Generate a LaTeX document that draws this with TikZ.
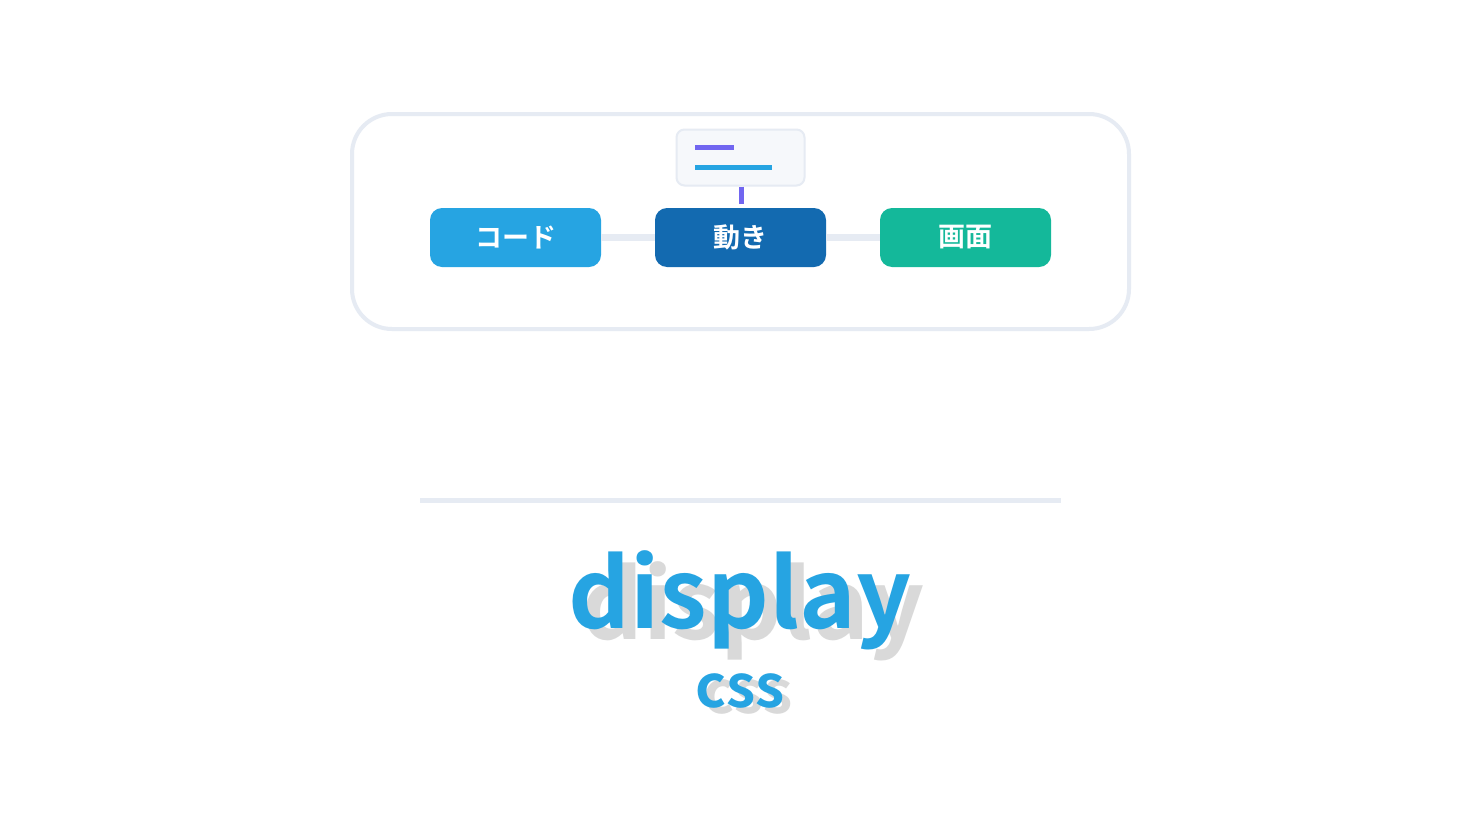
\documentclass[tikz,border=0pt]{standalone}
\usepackage{fontspec}
\newfontfamily\cjk{Noto Sans CJK JP}[BoldFont={Noto Sans CJK JP Bold}]
\definecolor{frame}{HTML}{E6EBF3}
\definecolor{codeblue}{HTML}{26A4E2}
\definecolor{movblue}{HTML}{136AB0}
\definecolor{scrgreen}{HTML}{14B89A}
\definecolor{purp}{HTML}{7166F0}
\definecolor{boxfill}{HTML}{F6F8FB}
\definecolor{shadowgray}{HTML}{D9D9D9}
\tikzset{
  pill/.style={rectangle, rounded corners=12pt, minimum width=171pt, minimum height=59pt, inner sep=0pt, text=white, font=\cjk\bfseries\fontsize{27}{30}\selectfont},
  link/.style={draw=frame, line width=7pt},
  bigtitle/.style={font=\cjk\bfseries\fontsize{96}{104}\selectfont, anchor=base},
  subtitle/.style={font=\cjk\bfseries\fontsize{59}{64}\selectfont, anchor=base},
}
\begin{document}
\begin{tikzpicture}[x=1pt,y=-1pt]
\useasboundingbox[fill=white] (0,0) rectangle (1480,835);
% container
\draw[frame, line width=4pt, rounded corners=40pt] (352,114) rectangle (1129,329);
% nodes
\node[pill, fill=codeblue] (code) at (515.5,237.5) {コード};
\node[pill, fill=movblue] (mov) at (740.5,237.5) {動き};
\node[pill, fill=scrgreen] (scr) at (965.5,237.5) {画面};
\draw[link] (code.east) -- (mov.west);
\draw[link] (mov.east) -- (scr.west);
% tooltip box
\node[draw=frame, line width=2pt, fill=boxfill, rounded corners=8pt, minimum width=128pt, minimum height=56pt, inner sep=0pt] (tip) at (740.5,157.5) {};
\draw[purp, line width=5pt] (695,147) -- (734,147);
\draw[codeblue, line width=5pt] (695,167) -- (772,167);
\coordinate (tipend) at (741,204);
\draw[purp, line width=5pt] (tip.south -| tipend) -- (tipend);
% separator
\coordinate (sepL) at (420,500.5);
\coordinate (sepR) at (1061,500.5);
\draw[frame, line width=5pt] (sepL) -- (sepR);
% title
\node[bigtitle, text=shadowgray] (dispshadow) at (753,639) {display};
\node[bigtitle, text=codeblue] (disp) at (740,628) {display};
\node[subtitle, text=shadowgray] (cssshadow) at (748,713) {css};
\node[subtitle, text=codeblue] (css) at (740,707) {css};
\end{tikzpicture}
\end{document}
